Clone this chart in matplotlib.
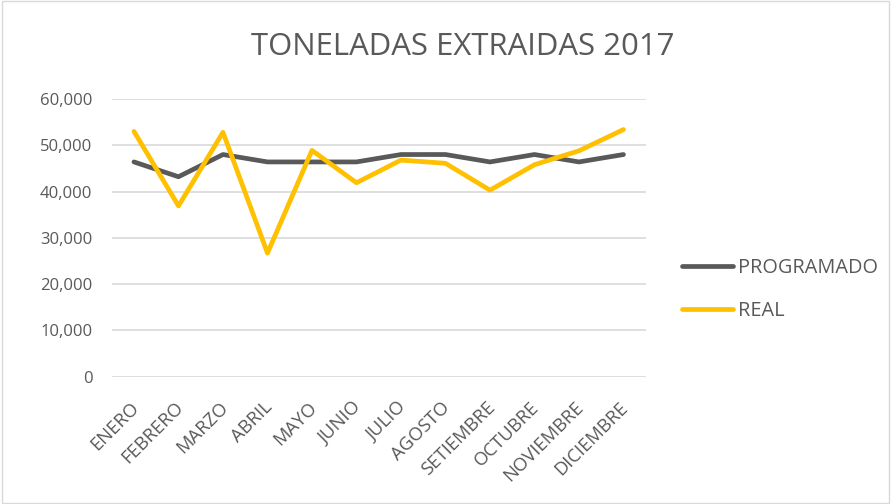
import matplotlib
matplotlib.use("Agg")
import matplotlib.pyplot as plt
from matplotlib.ticker import FuncFormatter
from matplotlib.transforms import blended_transform_factory, ScaledTranslation

months = ["ENERO", "FEBRERO", "MARZO", "ABRIL", "MAYO", "JUNIO", "JULIO",
          "AGOSTO", "SETIEMBRE", "OCTUBRE", "NOVIEMBRE", "DICIEMBRE"]
programado = [46400, 43200, 48000, 46400, 46400, 46400, 48000,
              48000, 46400, 48000, 46400, 48000]
real = [53000, 36900, 52800, 26700, 48900, 41900, 46800,
        46100, 40300, 45800, 48800, 53400]

plt.rcParams["font.family"] = ["Open Sans", "DejaVu Sans"]
txt = "#595959"

fig = plt.figure(figsize=(8.91, 5.04), dpi=100)
ax = fig.add_axes([0.1254, 0.2526, 0.5993, 0.551])

x = list(range(len(months)))
ax.plot(x, programado, color="#595959", lw=3.4, solid_capstyle="round",
        solid_joinstyle="round", label="PROGRAMADO", zorder=3)
ax.plot(x, real, color="#FFC000", lw=3.4, solid_capstyle="round",
        solid_joinstyle="round", label="REAL", zorder=4)

ax.set_xlim(-0.5, len(months) - 0.5)
ax.set_ylim(0, 60000)
ax.set_yticks(range(0, 60001, 10000))
ax.yaxis.set_major_formatter(FuncFormatter(lambda v, p: f"{int(v):,}"))
ax.grid(axis="y", color="#d9d9d9", lw=1.2)
ax.set_axisbelow(True)
for s in ax.spines.values():
    s.set_visible(False)
ax.tick_params(length=0, colors=txt, labelsize=12)
ax.tick_params(axis="y", pad=14)
ax.set_xticks(x)
ax.set_xticklabels([])

# rotated category labels, right end just at the category
base = blended_transform_factory(ax.transData, ax.transAxes)
off = ScaledTranslation(2 / 100, -28 / 100, fig.dpi_scale_trans)
for i, m in enumerate(months):
    ax.text(i, 0, m, transform=base + off, rotation=45, rotation_mode="anchor",
            ha="right", va="center", fontsize=13.3, color=txt)

fig.text(0.519, 0.907, "TONELADAS EXTRAIDAS 2017", ha="center", va="center",
         fontsize=22.4, color=txt)

leg = fig.legend(loc="center left", bbox_to_anchor=(0.7654, 0.4256), frameon=False,
                 fontsize=14.3, handlelength=2.55, handletextpad=0.25,
                 labelspacing=1.15, labelcolor=txt, borderpad=0, borderaxespad=0)

border = plt.Rectangle((0.002, 0.002), 0.996, 0.996, transform=fig.transFigure,
                       fill=False, edgecolor="#d9d9d9", lw=1)
fig.patches.append(border)

fig.savefig("out.png", dpi=100)
